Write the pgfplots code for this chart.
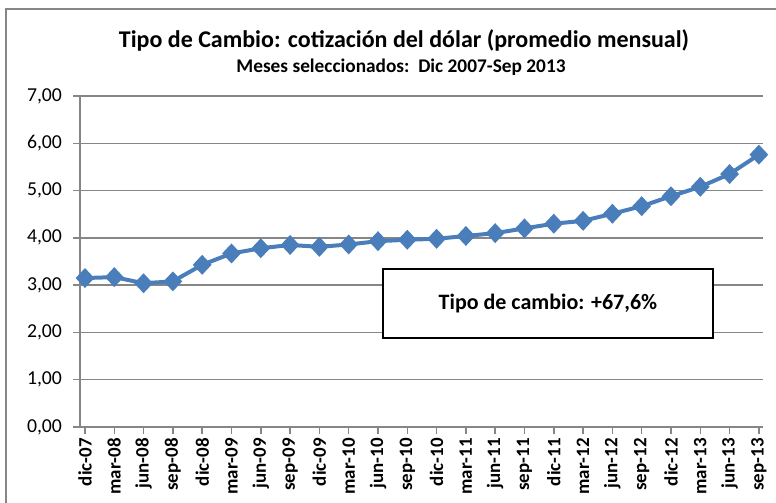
\documentclass[border=0pt]{standalone}
\usepackage{pgfplots}
\pgfplotsset{compat=1.18}
\usepackage{fontspec}
\setmainfont{Carlito}
\definecolor{lineblue}{HTML}{4A7EBB}
\definecolor{gridgray}{HTML}{868686}
\pgfplotstableread{
x y
0 3.15
1 3.17
2 3.04
3 3.08
4 3.43
5 3.67
6 3.78
7 3.85
8 3.81
9 3.86
10 3.93
11 3.96
12 3.98
13 4.04
14 4.10
15 4.20
16 4.30
17 4.36
18 4.51
19 4.67
20 4.88
21 5.08
22 5.35
23 5.76
}\datatable
\begin{document}
\begin{tikzpicture}[x=0.75pt,y=0.75pt]
\useasboundingbox (0,0) rectangle (776,503);
\draw[gridgray, line width=1.1pt] (6,-10) -- (6,494) -- (790,494);
\node[font=\fontsize{18}{21}\selectfont\bfseries] at (404,463) {Tipo de Cambio: cotización del dólar (promedio mensual)};
\node[font=\fontsize{14.5}{17}\selectfont\bfseries] at (401,436) {Meses seleccionados:\ \ Dic 2007-Sep 2013};
\begin{axis}[
  at={(60pt,57pt)}, anchor=south west, scale only axis,
  width=512.25pt, height=248.25pt,
  xmin=-0.17, xmax=23.14, ymin=0, ymax=7,
  ytick={0,1,...,7},
  xtick={0,1,...,23},
  xticklabels={dic-07,mar-08,jun-08,sep-08,dic-08,mar-09,jun-09,sep-09,dic-09,mar-10,jun-10,sep-10,dic-10,mar-11,jun-11,sep-11,dic-11,mar-12,jun-12,sep-12,dic-12,mar-13,jun-13,sep-13},
  axis lines*=left,
  axis line style={gridgray, line width=1.1pt},
  ymajorgrids, grid style={gridgray, line width=1.1pt},
  tick align=outside, major tick length=5pt,
  tick style={gridgray, line width=1.1pt},
  x tick label style={rotate=90, anchor=east, font=\fontsize{14.2}{16}\selectfont\bfseries},
  y tick label style={font=\fontsize{14.8}{17}\selectfont, xshift=-5pt},
  yticklabel style={/pgf/number format/.cd, fixed, fixed zerofill, precision=2, use comma, assume math mode=true},
  clip=false,
]
\addplot[lineblue, line width=3pt, mark=diamond*, mark size=5.3pt, mark options={solid, fill=lineblue, xscale=1.25}] table[x=x,y=y] {\datatable};
\draw[black, line width=1pt, fill=white] (axis cs:10.17,1.88) rectangle (axis cs:21.43,3.34);
\node[font=\fontsize{16.5}{19}\selectfont\bfseries] at (axis cs:15.8,2.62) {Tipo de cambio: +67,6\%};
\end{axis}
\end{tikzpicture}
\end{document}
